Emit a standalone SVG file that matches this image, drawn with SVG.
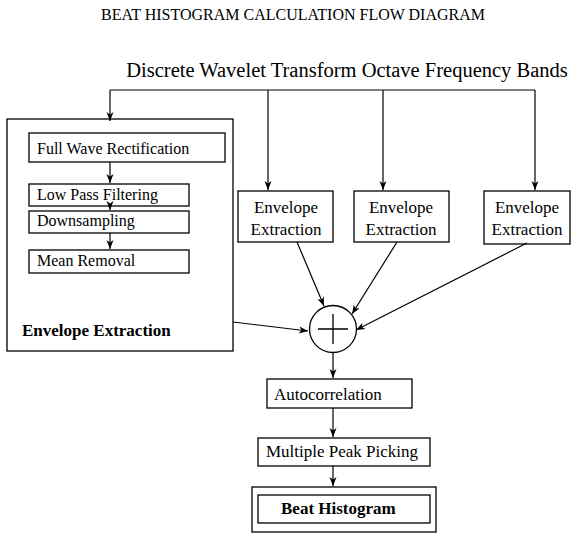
<svg xmlns="http://www.w3.org/2000/svg" width="577" height="535" viewBox="0 0 577 535">
<defs>
<style>
.t{font-family:"Liberation Serif","Times New Roman",serif;fill:#000}
.b{fill:none;stroke:#000;stroke-width:1.3}
.c{fill:none;stroke:#000;stroke-width:1.2}
</style>
<marker id="ah" markerWidth="10" markerHeight="10" refX="9" refY="5" orient="auto" markerUnits="userSpaceOnUse">
<path d="M0,1.5 L9,5 L0,8.5 L2.5,5 Z" fill="#000"/>
</marker>
</defs>
<rect width="577" height="535" fill="#fff"/>
<text class="t" x="293" y="20" font-size="16" text-anchor="middle">BEAT HISTOGRAM CALCULATION FLOW DIAGRAM</text>
<text class="t" x="347" y="77" font-size="20.5" text-anchor="middle">Discrete Wavelet Transform Octave Frequency Bands</text>

<g id="connectors">
<path class="c" d="M110,90 H535"/>
<path class="c" d="M110,90 V121" marker-end="url(#ah)"/>
<path class="c" d="M268,90 V190" marker-end="url(#ah)"/>
<path class="c" d="M383,90 V190" marker-end="url(#ah)"/>
<path class="c" d="M535,90 V190" marker-end="url(#ah)"/>
<path class="c" d="M110,162 V183" marker-end="url(#ah)"/>
<path class="c" d="M110,206 V210" marker-end="url(#ah)"/>
<path class="c" d="M110,233 V249" marker-end="url(#ah)"/>
<path class="c" d="M233,322 L308,331" marker-end="url(#ah)"/>
<path class="c" d="M297,242 L324,306" marker-end="url(#ah)"/>
<path class="c" d="M397,242 L352,314" marker-end="url(#ah)"/>
<path class="c" d="M527,243 L356,330" marker-end="url(#ah)"/>
<path class="c" d="M333,353 V378" marker-end="url(#ah)"/>
<path class="c" d="M333,408 V437" marker-end="url(#ah)"/>
<path class="c" d="M333,466 V486" marker-end="url(#ah)"/>
</g>

<g id="envelope-extraction-main">
<rect class="b" x="7" y="119" width="226" height="232"/>
<text class="t" x="22" y="336" font-size="17" font-weight="bold">Envelope Extraction</text>
</g>
<g id="full-wave-rectification">
<rect class="b" x="29" y="133" width="196" height="29"/>
<text class="t" x="37" y="154" font-size="16">Full Wave Rectification</text>
</g>
<g id="low-pass-filtering">
<rect class="b" x="29" y="184" width="160" height="22"/>
<text class="t" x="37" y="200" font-size="16">Low Pass Filtering</text>
</g>
<g id="downsampling">
<rect class="b" x="29" y="211" width="160" height="22"/>
<text class="t" x="37" y="226" font-size="16">Downsampling</text>
</g>
<g id="mean-removal">
<rect class="b" x="29" y="250" width="160" height="23"/>
<text class="t" x="37" y="266" font-size="16">Mean Removal</text>
</g>

<g id="env2">
<rect class="b" x="238" y="191" width="95" height="51"/>
<text class="t" x="286" y="213" font-size="17" text-anchor="middle">Envelope</text>
<text class="t" x="286" y="235" font-size="17" text-anchor="middle">Extraction</text>
</g>
<g id="env3">
<rect class="b" x="354" y="191" width="95" height="51"/>
<text class="t" x="401" y="213" font-size="17" text-anchor="middle">Envelope</text>
<text class="t" x="401" y="235" font-size="17" text-anchor="middle">Extraction</text>
</g>
<g id="env4">
<rect class="b" x="484" y="191" width="86" height="53"/>
<text class="t" x="527" y="213" font-size="17" text-anchor="middle">Envelope</text>
<text class="t" x="527" y="235" font-size="17" text-anchor="middle">Extraction</text>
</g>

<g id="sum">
<circle class="b" cx="333" cy="329" r="23.5"/>
<path class="b" d="M318,329 H348 M333,314 V344"/>
</g>

<g id="autocorrelation">
<rect class="b" x="267" y="379" width="145" height="29"/>
<text class="t" x="274" y="400" font-size="17">Autocorrelation</text>
</g>
<g id="multiple-peak-picking">
<rect class="b" x="258" y="438" width="172" height="28"/>
<text class="t" x="266" y="457" font-size="17">Multiple Peak Picking</text>
</g>
<g id="beat-histogram">
<rect class="b" x="252" y="487" width="184" height="45"/>
<rect class="b" x="258" y="495" width="172" height="28"/>
<text class="t" x="281" y="514" font-size="17" font-weight="bold">Beat Histogram</text>
</g>
</svg>
